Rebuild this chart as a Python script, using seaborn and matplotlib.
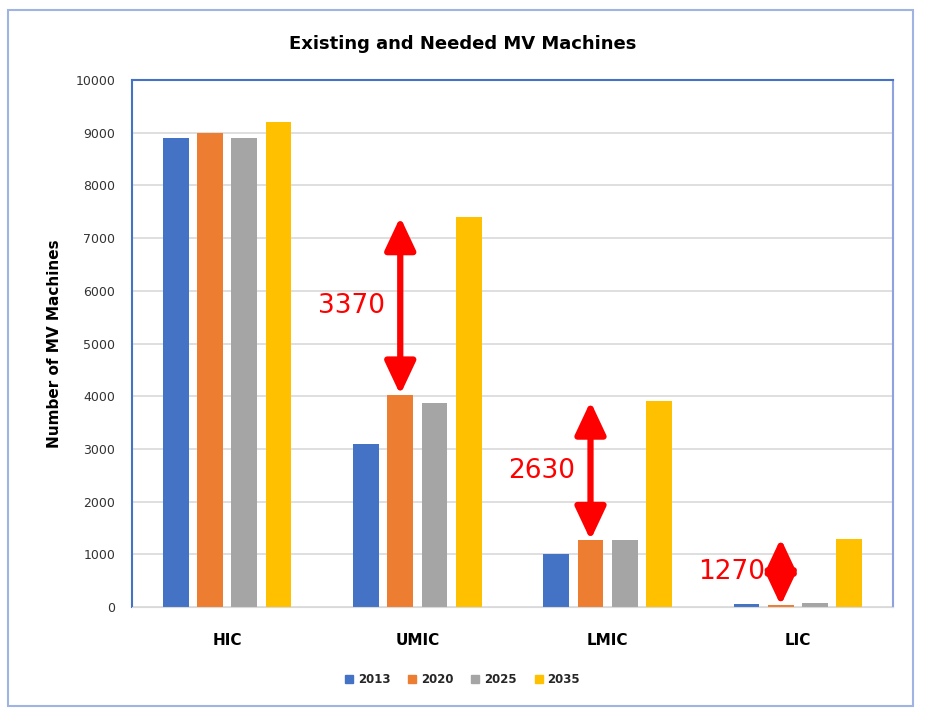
import matplotlib
matplotlib.use("Agg")
import matplotlib.pyplot as plt
import matplotlib.patches as mpatches
import pandas as pd
import seaborn as sns

# Data
groups = ['HIC', 'UMIC', 'LMIC', 'LIC']
years = ['2013', '2020', '2025', '2035']
v2013 = [8900, 3100, 1000, 50]
v2020 = [9000, 4030, 1270, 30]
v2025 = [8900, 3880, 1270, 70]
v2035 = [9200, 7400, 3900, 1300]
colors = ['#4472C4', '#ED7D31', '#A5A5A5', '#FFC000']

# Gaps between existing (2020) and needed (2035)
gap_labels = ['3370', '2630', '1270']
gap_groups = ['UMIC', 'LMIC', 'LIC']

# Long format table
rows = []
for yr, vals in zip(years, [v2013, v2020, v2025, v2035]):
    for g, v in zip(groups, vals):
        rows.append({'Group': g, 'Year': yr, 'Machines': v})
df = pd.DataFrame(rows)

sns.set_style("white")
fig = plt.figure(figsize=(9.25, 7.21), dpi=100)
ax = fig.add_axes([0.1427, 0.1581, 0.8227, 0.7309])

sns.barplot(data=df, x='Group', y='Machines', hue='Year', order=groups,
            hue_order=years, palette=colors, width=0.72, gap=0.25,
            saturation=1, linewidth=0, ax=ax, legend=False)

ax.set_ylim(0, 10000)
ax.set_yticks(range(0, 10001, 1000))
ax.set_xlim(-0.5, 3.5)
ax.grid(True, axis='y', color='#D9D9D9', linewidth=1.2)
ax.set_axisbelow(True)
ax.tick_params(axis='y', labelsize=9, colors='#333333', length=0, pad=12)
ax.tick_params(axis='x', labelsize=11, colors='black', length=0, pad=19)
for lbl in ax.get_xticklabels():
    lbl.set_fontweight('bold')
ax.set_xlabel('')
ax.set_ylabel('Number of MV Machines', fontsize=11, fontweight='bold',
              color='black', labelpad=10)

for side in ['left', 'top', 'right']:
    ax.spines[side].set_color('#4472C4')
    ax.spines[side].set_linewidth(1.5)
ax.spines['right'].set_color('#8EA2E0')
ax.spines['bottom'].set_color('#D9D9D9')

# Red double arrows from the 2020 bar up to the 2035 level
off = 0.72 / 4 * -0.5  # 2020 bar offset within group
for g, lab in zip(gap_groups, gap_labels):
    i = groups.index(g)
    y0 = v2020[i]
    y1 = v2035[i]
    x = i + off
    ax.annotate('', xy=(x, y1), xytext=(x, y0),
                arrowprops=dict(arrowstyle='<|-|>,head_length=1.0,head_width=0.47',
                                color='#FF0000', lw=4.5,
                                mutation_scale=20, shrinkA=0, shrinkB=0))
    ax.text(x - 0.08, (y0 + y1) / 2 if g != 'LIC' else 670, lab,
            color='#FF0000', fontsize=19, ha='right', va='center')

fig.suptitle('Existing and Needed MV Machines', fontsize=13, fontweight='bold',
             color='black', x=0.5, y=0.952)

handles = [mpatches.Patch(color=c, label=y) for c, y in zip(colors, years)]
fig.legend(handles=handles, loc='center', bbox_to_anchor=(0.5, 0.057), ncol=4,
           frameon=False, handlelength=0.7, handleheight=0.7,
           columnspacing=1.5, handletextpad=0.4,
           prop={'weight': 'bold', 'size': 8.5})

# Outer frame
fig.patches.append(mpatches.Rectangle((0.009, 0.021), 0.978, 0.965,
                                      transform=fig.transFigure, fill=False,
                                      edgecolor='#9FB4E3', linewidth=1.5))

fig.savefig('out.png', dpi=100)
